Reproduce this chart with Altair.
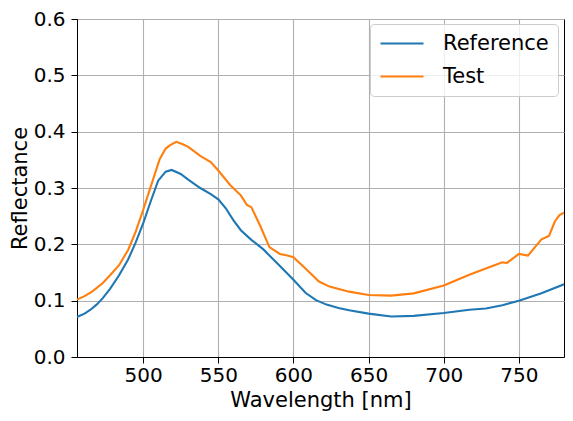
import altair as alt
import pandas as pd

ref_wl = [456, 461, 465, 469, 473, 478, 484, 490, 495, 500, 505, 510, 515, 519, 525, 530, 538, 545,
          550, 555, 560, 565, 572, 580, 590, 600, 608, 615, 622, 630, 637, 650, 665, 680, 700, 717,
          728, 739, 750, 765, 780]
ref_val = [0.071, 0.077, 0.084, 0.093, 0.104, 0.121, 0.145, 0.173, 0.203, 0.237, 0.276, 0.313, 0.329,
           0.332, 0.325, 0.315, 0.300, 0.289, 0.280, 0.264, 0.243, 0.225, 0.208, 0.191, 0.164, 0.137,
           0.114, 0.101, 0.093, 0.087, 0.083, 0.077, 0.072, 0.073, 0.078, 0.084, 0.086, 0.092, 0.100,
           0.113, 0.129]

test_wl = [456, 461, 466, 473, 478, 484, 490, 495, 500, 505, 511, 515, 518, 522, 526, 530, 538, 545,
           550, 558, 565, 569, 572, 578, 584, 591, 596, 600, 608, 617, 624, 637, 650, 665, 680, 700,
           717, 728, 739, 742, 750, 756, 765, 770, 774, 777, 780]
test_val = [0.102, 0.108, 0.116, 0.131, 0.145, 0.163, 0.190, 0.222, 0.261, 0.302, 0.351, 0.370, 0.376,
            0.382, 0.378, 0.373, 0.357, 0.346, 0.331, 0.305, 0.287, 0.270, 0.266, 0.232, 0.195, 0.183,
            0.180, 0.177, 0.157, 0.134, 0.125, 0.116, 0.110, 0.109, 0.113, 0.127, 0.146, 0.157, 0.168,
            0.167, 0.183, 0.180, 0.209, 0.215, 0.241, 0.252, 0.256]

series_names = ["Reference", "Test"]
x_ticks = [500, 550, 600, 650, 700, 750]
y_ticks = [0.0, 0.1, 0.2, 0.3, 0.4, 0.5, 0.6]

df = pd.concat([
    pd.DataFrame({"wl": ref_wl, "val": ref_val, "series": series_names[0]}),
    pd.DataFrame({"wl": test_wl, "val": test_val, "series": series_names[1]}),
])

font = "DejaVu Sans"

chart = alt.Chart(df).mark_line(strokeWidth=2.1, clip=True).encode(
    x=alt.X("wl:Q", title="Wavelength [nm]",
            scale=alt.Scale(domain=[456, 780], nice=False, zero=False),
            axis=alt.Axis(values=x_ticks, format="d", labelPadding=2, titlePadding=4)),
    y=alt.Y("val:Q", title="Reflectance",
            scale=alt.Scale(domain=[0, 0.6], nice=False),
            axis=alt.Axis(values=y_ticks, format=".1f", labelPadding=6, titlePadding=3)),
    color=alt.Color("series:N", title=None,
                    scale=alt.Scale(domain=series_names, range=["#1f77b4", "#ff7f0e"]),
                    legend=alt.Legend(orient="none", legendX=293, legendY=5,
                                      symbolType="stroke", symbolSize=1850, symbolStrokeWidth=2.1,
                                      labelFontSize=21, labelFont=font, labelColor="black",
                                      fillColor="rgba(255,255,255,0.8)", strokeColor="#cccccc",
                                      cornerRadius=4, padding=9, rowPadding=11, labelOffset=18,
                                      clipHeight=21)),
    order=alt.Order("wl:Q"),
    detail="series:N",
).properties(
    width=487, height=338,
    autosize=alt.AutoSizeParams(type="none"),
    padding={"left": 69, "top": 11, "right": 1, "bottom": 56},
).configure_axis(
    labelFont=font, titleFont=font, labelFontSize=20, titleFontSize=21,
    labelColor="black", titleColor="black", titleFontWeight="normal",
    domainColor="black", tickColor="black", tickSize=6, domainWidth=1,
    gridColor="#b0b0b0", gridWidth=1.1,
).configure_view(
    stroke="black", strokeWidth=1
)

chart.save("out.html", embed_options={"renderer": "svg", "actions": False})
